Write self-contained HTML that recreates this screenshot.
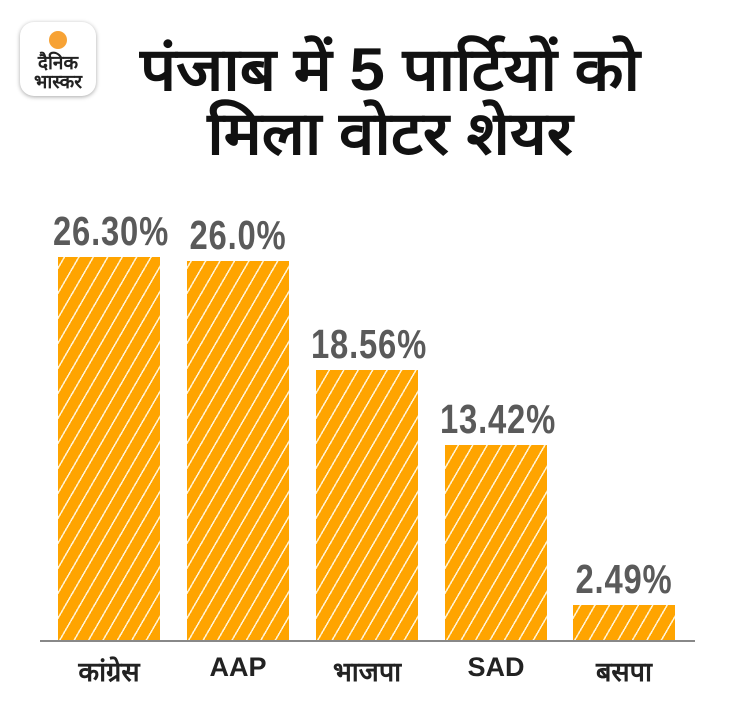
<!DOCTYPE html>
<html><head><meta charset="utf-8"><style>
body{margin:0;width:730px;height:708px;background:#fff;overflow:hidden;position:relative;font-family:"Liberation Sans","Noto Sans CJK SC",sans-serif}
.t{position:absolute;left:90px;width:600px;text-align:center;font-weight:bold;font-size:60px;color:#111;line-height:64px;transform:scaleX(1.06)}
.logo{position:absolute;left:20px;top:22px;width:76px;height:74px;border-radius:14px;background:#fff;box-shadow:0 1px 4px rgba(0,0,0,.35);text-align:center}
.dot{position:absolute;left:29px;top:9px;width:18px;height:18px;border-radius:50%;background:#f7a234}
.lt{position:absolute;left:0;width:76px;font-size:19px;font-weight:bold;color:#222;line-height:18px}
.bar{position:absolute;width:102px;background:repeating-linear-gradient(-60deg,#ffa400 0,#ffa400 11px,#fff3d6 11px,#fff3d6 12.5px)}
.v{position:absolute;width:140px;text-align:center;font-size:41px;font-weight:bold;color:#5a5a5a;transform:scaleX(.8);letter-spacing:1px}
.x{position:absolute;width:140px;text-align:center;font-size:27px;font-weight:bold;color:#222;top:652px}
</style></head><body>
<div class="logo"><div class="dot"></div><div class="lt" style="top:33px">दैनिक</div><div class="lt" style="top:52px">भास्कर</div></div>
<div class="t" style="top:38px">पंजाब में 5 पार्टियों को</div>
<div class="t" style="top:102px">मिला वोटर शेयर</div>
<div style="position:absolute;left:40px;top:640px;width:655px;height:2px;background:#888"></div>
<div class="bar" style="left:58px;top:257px;height:383px"></div>
<div class="bar" style="left:187px;top:261px;height:379px"></div>
<div class="bar" style="left:316px;top:370px;height:270px"></div>
<div class="bar" style="left:445px;top:445px;height:195px"></div>
<div class="bar" style="left:573px;top:605px;height:35px"></div>
<div class="v" style="left:39px;top:208px">26.30%</div>
<div class="v" style="left:168px;top:212px">26.0%</div>
<div class="v" style="left:297px;top:321px">18.56%</div>
<div class="v" style="left:426px;top:396px">13.42%</div>
<div class="v" style="left:554px;top:556px">2.49%</div>
<div class="x" style="left:39px">कांग्रेस</div>
<div class="x" style="left:168px">AAP</div>
<div class="x" style="left:297px">भाजपा</div>
<div class="x" style="left:426px">SAD</div>
<div class="x" style="left:554px">बसपा</div>
</body></html>
